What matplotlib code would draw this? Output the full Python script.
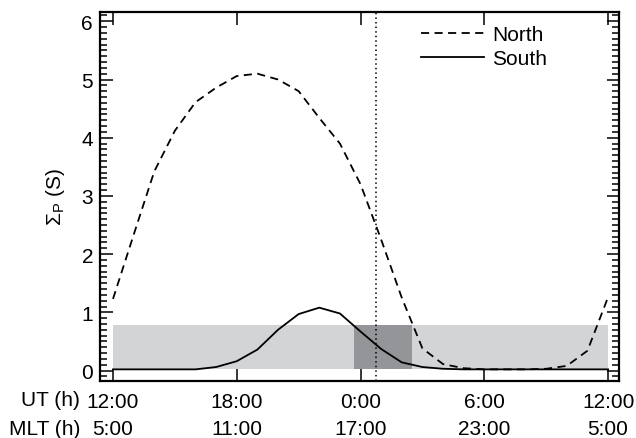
import matplotlib
matplotlib.use("Agg")
import matplotlib.pyplot as plt
from matplotlib.ticker import MultipleLocator

plt.rcParams['font.family'] = ['Liberation Sans', 'DejaVu Sans']
plt.rcParams['mathtext.fontset'] = 'custom'
plt.rcParams['mathtext.rm'] = 'Liberation Sans'
plt.rcParams['mathtext.it'] = 'Liberation Sans'

# UT hours (12:00 .. 12:00 next day), hourly samples
ut_hours = list(range(12, 37))
north = [1.23, 2.33, 3.42, 4.12, 4.61, 4.86, 5.06, 5.1, 5.0, 4.8, 4.34, 3.9,
         3.2, 2.25, 1.25, 0.38, 0.11, 0.04, 0.02, 0.02, 0.02, 0.03, 0.08, 0.34, 1.26]
south = [0.02, 0.02, 0.02, 0.02, 0.02, 0.06, 0.16, 0.36, 0.7, 0.97, 1.08, 0.98,
         0.67, 0.37, 0.14, 0.06, 0.03, 0.02, 0.02, 0.02, 0.02, 0.02, 0.02, 0.02, 0.02]

ut_ticks = [12, 18, 24, 30, 36]
ut_labels = ["12:00", "18:00", "0:00", "6:00", "12:00"]
mlt_labels = ["5:00", "11:00", "17:00", "23:00", "5:00"]

band_light = (12, 36, 0.03, 0.78)
band_dark = (23.7, 26.5)
marker_ut = 24.77

FS = 15


def main():
    fig = plt.figure(figsize=(6.36, 4.39), dpi=100)
    ax = fig.add_axes([100 / 636, 1 - 382 / 439, 519 / 636, 369 / 439])

    x0, x1, y0, y1 = band_light
    ax.fill_between([x0, x1], y0, y1, color="#d3d4d6", lw=0, zorder=1)
    ax.fill_between(list(band_dark), y0, y1, color="#939598", lw=0, zorder=1)

    ax.plot(ut_hours, north, color="black", lw=1.3, dashes=(4.5, 3.0), label="North", zorder=3)
    ax.plot(ut_hours, south, color="black", lw=1.3, label="South", zorder=3)
    ax.axvline(marker_ut, color="black", lw=1.1, ls=(0, (1, 2)), zorder=2)

    ax.set_xlim(11.37, 36.53)
    ax.set_ylim(-0.18, 6.16)
    ax.set_xticks(ut_ticks)
    ax.set_xticklabels([u + "\n" + m for u, m in zip(ut_labels, mlt_labels)], linespacing=1.5)
    ax.yaxis.set_major_locator(MultipleLocator(1))
    ax.yaxis.set_minor_locator(MultipleLocator(0.1))
    ax.tick_params(axis="both", which="both", direction="in", top=True, right=True,
                   labelsize=FS, width=1.1)
    ax.tick_params(axis="both", which="major", length=9, pad=5)
    ax.tick_params(axis="x", which="major", pad=8)
    ax.tick_params(axis="y", which="minor", length=5)
    for s in ax.spines.values():
        s.set_linewidth(1.6)

    ax.set_ylabel(r"$\Sigma_{\mathrm{P}}$ (S)", fontsize=FS, labelpad=10)
    fig.text(80 / 636, 1 - 401 / 439, "UT (h)", ha="right", va="center", fontsize=FS)
    fig.text(80 / 636, 1 - 430 / 439, "MLT (h)", ha="right", va="center", fontsize=FS)

    ax.legend(loc="upper left", frameon=False, fontsize=FS, handlelength=3.0,
              handletextpad=0.4, labelspacing=0.25, borderpad=0, borderaxespad=0,
              bbox_to_anchor=((421 - 100) / 519, (382 - 26) / 369))

    fig.savefig("out.png", dpi=100)


if __name__ == "__main__":
    main()
